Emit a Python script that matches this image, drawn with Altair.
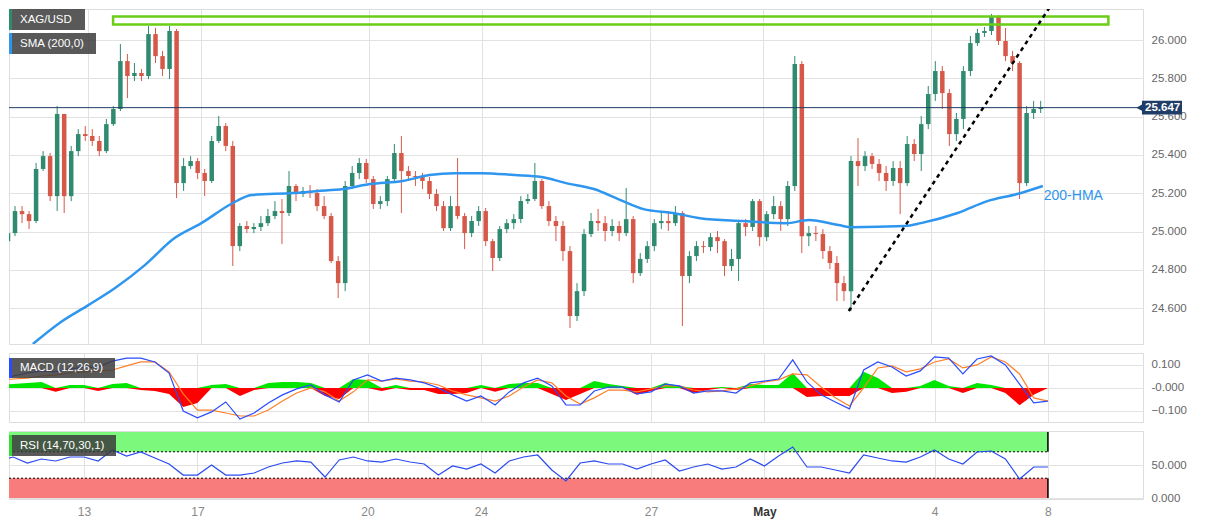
import altair as alt
import pandas as pd

# ---------------- data ----------------
candle_start_day = -1.43     # trading-day index of first 3-hour candle (0 = Apr 13)
candle_step = 0.125          # 3 hours
opens = [24.950, 24.992, 25.107, 25.091, 25.055, 25.327, 25.394, 25.185, 25.614, 25.185,
         25.420, 25.509, 25.499, 25.473, 25.420, 25.561, 25.640, 25.890, 25.812, 25.828,
         25.812, 26.031, 25.916, 25.849, 26.047, 25.253, 25.342, 25.368, 25.306, 25.264,
         25.473, 25.551, 25.447, 24.924, 25.029, 25.013, 25.024, 25.044, 25.081, 25.107,
         25.097, 25.238, 25.196, 25.212, 25.201, 25.133, 25.081, 24.846, 24.731, 25.238,
         25.306, 25.358, 25.274, 25.144, 25.159, 25.274, 25.410, 25.316, 25.290, 25.285,
         25.264, 25.196, 25.133, 25.018, 25.133, 25.081, 24.992, 25.055, 25.107, 24.950,
         24.862, 25.013, 25.044, 25.065, 25.159, 25.170, 25.264, 25.133, 25.055, 25.029,
         24.898, 24.559, 24.689, 24.987, 25.055, 25.044, 25.003, 25.029, 24.992, 25.065,
         24.783, 24.857, 24.924, 25.044, 25.055, 25.044, 25.097, 24.768, 24.872, 24.924,
         24.919, 24.971, 24.950, 24.820, 24.857, 25.044, 25.024, 25.159, 24.971, 25.091,
         25.133, 25.065, 25.238, 25.875, 24.976, 24.992, 24.987, 24.898, 24.836, 24.731,
         24.689, 25.368, 25.342, 25.394, 25.353, 25.306, 25.264, 25.332, 25.253, 25.457,
         25.405, 25.561, 25.718, 25.838, 25.723, 25.509, 25.588, 25.838, 25.984, 26.037,
         26.047, 26.120, 25.995, 25.916, 25.880, 25.253, 25.619, 25.640]
closes = [24.992, 25.107, 25.091, 25.055, 25.327, 25.394, 25.185, 25.614, 25.185, 25.420,
          25.509, 25.499, 25.473, 25.420, 25.561, 25.640, 25.890, 25.812, 25.828, 25.812,
          26.031, 25.916, 25.849, 26.047, 25.253, 25.342, 25.368, 25.306, 25.264, 25.473,
          25.551, 25.447, 24.924, 25.029, 25.013, 25.024, 25.044, 25.081, 25.107, 25.097,
          25.238, 25.196, 25.212, 25.201, 25.133, 25.081, 24.846, 24.731, 25.238, 25.306,
          25.358, 25.274, 25.144, 25.159, 25.274, 25.410, 25.316, 25.290, 25.285, 25.264,
          25.196, 25.133, 25.018, 25.133, 25.081, 24.992, 25.055, 25.107, 24.950, 24.862,
          25.013, 25.044, 25.065, 25.159, 25.170, 25.264, 25.133, 25.055, 25.029, 24.898,
          24.559, 24.689, 24.987, 25.055, 25.044, 25.003, 25.029, 24.992, 25.065, 24.783,
          24.857, 24.924, 25.044, 25.055, 25.044, 25.097, 24.768, 24.872, 24.924, 24.919,
          24.971, 24.950, 24.820, 24.857, 25.044, 25.024, 25.159, 24.971, 25.091, 25.133,
          25.065, 25.238, 25.875, 24.976, 24.992, 24.987, 24.898, 24.836, 24.731, 24.689,
          25.368, 25.342, 25.394, 25.353, 25.306, 25.264, 25.332, 25.253, 25.457, 25.405,
          25.561, 25.718, 25.838, 25.723, 25.509, 25.588, 25.838, 25.984, 26.037, 26.047,
          26.120, 25.995, 25.916, 25.880, 25.253, 25.619, 25.640, 25.647]
highs = [25.029, 25.133, 25.133, 25.107, 25.358, 25.420, 25.410, 25.655, 25.614, 25.447,
         25.535, 25.551, 25.535, 25.499, 25.588, 25.655, 25.979, 25.927, 25.880, 25.849,
         26.073, 26.063, 25.943, 26.073, 26.058, 25.384, 25.394, 25.384, 25.327, 25.499,
         25.603, 25.567, 25.473, 25.044, 25.055, 25.044, 25.081, 25.118, 25.159, 25.170,
         25.316, 25.248, 25.233, 25.243, 25.222, 25.185, 25.097, 24.872, 25.264, 25.342,
         25.384, 25.379, 25.290, 25.185, 25.290, 25.457, 25.499, 25.342, 25.316, 25.306,
         25.285, 25.222, 25.159, 25.185, 25.384, 25.097, 25.081, 25.133, 25.123, 24.961,
         25.029, 25.065, 25.091, 25.185, 25.196, 25.358, 25.274, 25.159, 25.081, 25.055,
         24.924, 24.731, 25.013, 25.097, 25.118, 25.081, 25.065, 25.055, 25.227, 25.081,
         24.888, 24.950, 25.065, 25.107, 25.107, 25.133, 25.107, 24.898, 24.950, 24.950,
         24.992, 25.003, 24.961, 24.909, 25.055, 25.065, 25.170, 25.170, 25.107, 25.185,
         25.159, 25.264, 25.916, 25.890, 25.029, 25.029, 25.013, 24.924, 24.872, 24.768,
         25.394, 25.488, 25.420, 25.410, 25.379, 25.342, 25.368, 25.368, 25.499, 25.483,
         25.603, 25.760, 25.890, 25.864, 25.744, 25.619, 25.864, 26.021, 26.058, 26.068,
         26.136, 26.131, 26.063, 25.943, 25.890, 25.655, 25.682, 25.682]
lows = [24.836, 24.976, 25.044, 25.013, 25.044, 25.316, 25.159, 25.107, 25.097, 25.159,
        25.394, 25.473, 25.447, 25.394, 25.410, 25.551, 25.629, 25.697, 25.786, 25.786,
        25.796, 25.880, 25.812, 25.796, 25.175, 25.212, 25.327, 25.274, 25.185, 25.253,
        25.462, 25.420, 24.820, 24.898, 24.992, 24.992, 25.003, 25.029, 25.065, 24.935,
        25.081, 25.159, 25.180, 25.175, 25.107, 25.065, 24.836, 24.653, 24.689, 25.222,
        25.274, 25.253, 25.118, 25.118, 25.133, 25.253, 25.097, 25.264, 25.238, 25.222,
        25.170, 25.107, 25.003, 25.003, 25.065, 24.909, 24.971, 25.029, 24.924, 24.794,
        24.846, 24.992, 25.013, 25.044, 25.144, 25.159, 25.118, 25.029, 24.950, 24.846,
        24.496, 24.533, 24.663, 24.971, 25.003, 24.950, 24.976, 24.950, 24.976, 24.731,
        24.768, 24.836, 24.898, 25.013, 25.003, 25.029, 24.507, 24.731, 24.846, 24.888,
        24.898, 24.888, 24.768, 24.794, 24.742, 24.976, 25.003, 24.924, 24.950, 25.065,
        25.003, 25.029, 25.212, 24.888, 24.924, 24.950, 24.857, 24.804, 24.637, 24.637,
        24.585, 25.238, 25.316, 25.327, 25.264, 25.212, 25.238, 25.091, 25.238, 25.368,
        25.316, 25.535, 25.682, 25.640, 25.447, 25.473, 25.535, 25.812, 25.969, 26.016,
        26.026, 25.974, 25.890, 25.838, 25.170, 25.238, 25.588, 25.619]

hma_days = [-0.988, -0.494, 0.0, 0.476, 1.005, 1.534, 2.011, 2.540, 2.910, 3.651,
            4.056, 4.533, 5.009, 5.591, 6.067, 6.526, 7.002, 7.584, 8.060, 8.501,
            8.995, 9.471, 9.877, 10.406, 10.882, 11.640, 12.416, 12.822, 13.351, 13.580,
            14.533, 14.815, 15.467, 15.997, 16.526, 16.984]
hma_vals = [24.413, 24.527, 24.616, 24.705, 24.825, 24.966, 25.044, 25.144, 25.191, 25.201,
            25.211, 25.222, 25.248, 25.264, 25.295, 25.305, 25.305, 25.295, 25.285, 25.253,
            25.222, 25.164, 25.117, 25.097, 25.070, 25.055, 25.044, 25.060, 25.034, 25.023,
            25.029, 25.044, 25.097, 25.159, 25.196, 25.238]

ind_start_day = -1.5
ind_step = 0.25
macd = [0.044, 0.052, 0.065, 0.074, 0.070, 0.083, 0.091, 0.091, 0.117, 0.130,
        0.130, 0.113, 0.065, -0.100, -0.130, -0.104, -0.061, -0.135, -0.109, -0.065,
        -0.030, -0.004, 0.013, -0.030, -0.061, 0.035, 0.057, 0.030, 0.043, 0.035,
        0.022, 0.000, -0.030, -0.057, -0.035, -0.074, -0.017, 0.022, 0.043, 0.009,
        -0.074, -0.074, -0.013, 0.004, 0.004, -0.026, -0.017, 0.017, 0.009, -0.022,
        -0.013, -0.013, -0.022, 0.022, 0.030, 0.039, 0.122, 0.026, -0.030, -0.061,
        -0.091, 0.078, 0.113, 0.091, 0.052, 0.074, 0.135, 0.130, 0.061, 0.126,
        0.139, 0.100, 0.017, -0.065, -0.057]
signal = [0.035, 0.039, 0.043, 0.052, 0.057, 0.065, 0.070, 0.074, 0.078, 0.096,
          0.113, 0.113, 0.070, -0.026, -0.096, -0.096, -0.109, -0.122, -0.122, -0.096,
          -0.057, -0.022, 0.000, -0.017, -0.057, -0.017, 0.035, 0.030, 0.039, 0.030,
          0.026, 0.013, -0.013, -0.030, -0.043, -0.057, -0.035, 0.004, 0.035, 0.022,
          -0.035, -0.070, -0.043, -0.009, -0.009, -0.017, -0.004, 0.009, 0.009, -0.009,
          -0.017, -0.013, -0.004, 0.009, 0.026, 0.035, 0.061, 0.057, 0.004, -0.043,
          -0.078, 0.000, 0.087, 0.096, 0.070, 0.083, 0.113, 0.126, 0.087, 0.100,
          0.135, 0.113, 0.061, -0.043, -0.057]
hist = [0.013, 0.017, 0.022, 0.026, -0.017, 0.013, 0.013, -0.013, 0.017, 0.022,
        -0.009, -0.013, -0.026, -0.083, -0.065, 0.013, 0.017, -0.035, -0.009, 0.022,
        0.026, 0.026, 0.022, -0.035, -0.048, 0.039, 0.035, -0.013, 0.013, -0.009,
        -0.009, -0.026, -0.026, -0.022, 0.013, -0.017, 0.017, 0.022, 0.022, -0.026,
        -0.052, -0.026, 0.030, 0.017, 0.009, -0.030, -0.013, 0.022, 0.009, -0.022,
        -0.009, 0.004, -0.009, 0.017, 0.013, 0.013, 0.065, -0.039, -0.035, -0.035,
        -0.035, 0.070, 0.043, -0.022, -0.017, 0.009, 0.035, 0.009, -0.022, 0.022,
        0.013, -0.022, -0.075, -0.030, 0.000]
rsi = [56.1, 62.1, 53.0, 59.1, 56.1, 62.1, 62.1, 56.1, 72.7, 63.6,
       69.7, 60.6, 51.5, 34.8, 34.8, 50.0, 34.8, 34.8, 37.9, 47.0,
       53.0, 56.1, 54.5, 31.8, 57.6, 62.1, 56.1, 54.5, 59.1, 54.5,
       51.5, 34.8, 48.5, 43.9, 51.5, 37.9, 56.1, 62.1, 65.2, 42.4,
       25.8, 53.0, 56.1, 51.5, 51.5, 43.9, 51.5, 57.6, 40.9, 47.0,
       51.5, 43.9, 47.0, 59.1, 48.5, 63.6, 77.3, 47.0, 47.0, 42.4,
       37.9, 65.2, 60.6, 56.1, 54.5, 62.1, 72.7, 59.1, 51.5, 69.7,
       71.2, 59.1, 28.8, 47.0, 47.0]

tick_days = [0, 2, 5, 7, 10, 12, 15, 17]
tick_labels = ["13", "17", "20", "24", "27", "May", "4", "8"]
price_ticks = [24.6, 24.8, 25.0, 25.2, 25.4, 25.6, 25.8, 26.0]
macd_ticks = [-0.1, 0.0, 0.1]
rsi_ticks = [0, 50]
last_price = 25.647
zone_low, zone_high = 26.081, 26.123
zone_start, zone_end = 0.44, 18.15
trend_days = [13.53, 17.18]
trend_prices = [24.585, 26.204]
data_end_day = 17.0
hma_label_day, hma_label_price = 17.0, 25.185
rsi_ob = (70, 100)
rsi_os = (0, 30)

# ---------------- styling ----------------
X_MIN, X_MAX = -1.323, 18.677
W = 1134
GREEN_C, RED_C = "#2f8a70", "#d65848"
HMA_C = "#2e96ee"
NAVY = "#1f3d66"
FONT = "Liberation Sans"

xscale = alt.Scale(domain=[X_MIN, X_MAX], nice=False, zero=False)
ymain = alt.Scale(domain=[24.413, 26.162], nice=False, zero=False)
ymacd = alt.Scale(domain=[-0.148, 0.152], nice=False, zero=False)
yrsi = alt.Scale(domain=[-1.5, 101.5], nice=False, zero=False)

x_axis_hidden = alt.Axis(values=tick_days, labels=False, ticks=False, domain=False,
                         grid=True, title=None)
label_expr = " : ".join(f"datum.value == {d} ? '{l}'" for d, l in zip(tick_days, tick_labels)) + " : ''"
x_axis_bottom = alt.Axis(values=tick_days, labelExpr=label_expr, ticks=False, domain=False,
                         grid=True, title=None, labelFontSize=12, labelPadding=7,
                         labelColor={"condition": {"test": "datum.value == 12", "value": "#333333"}, "value": "#888888"},
                         labelFontWeight={"condition": {"test": "datum.value == 12", "value": "bold"}, "value": "normal"})

def yaxis(values, fmt=".3f", expr=None):
    kw = dict(values=values, orient="right", format=fmt, ticks=False, domain=False,
              grid=True, title=None, labelFontSize=11.5, labelColor="#666666", labelPadding=8)
    if expr:
        kw["labelExpr"] = expr
    return alt.Axis(**kw)

ax_main = yaxis(price_ticks)
ax_macd = yaxis(macd_ticks, expr="datum.value == 0 ? '-0.000' : format(datum.value, '.3f')")
ax_rsi = yaxis(rsi_ticks)

one = pd.DataFrame({"k": [0]})

def badge(x0, x1, y0, y1, stripe, text):
    d = alt.Chart(one)
    box = d.mark_rect(color="#3c3c3c", opacity=0.85).encode(
        x=alt.value(x0), x2=alt.value(x1), y=alt.value(y0), y2=alt.value(y1))
    st = d.mark_rect(color=stripe).encode(
        x=alt.value(x0), x2=alt.value(x0 + 3), y=alt.value(y0), y2=alt.value(y1))
    tx = d.mark_text(text=text, color="white", fontSize=11.5, align="left",
                     baseline="middle", font=FONT).encode(
        x=alt.value(x0 + 11), y=alt.value((y0 + y1) / 2))
    return [box, st, tx]

# ---------------- main panel ----------------
n = len(closes)
cdf = pd.DataFrame({
    "day": [candle_start_day + candle_step * i for i in range(n)],
    "open": opens, "high": highs, "low": lows, "close": closes,
})
cdf["dir"] = ["up" if c >= o else "down" for o, c in zip(opens, closes)]
color_enc = alt.Color("dir:N", scale=alt.Scale(domain=["up", "down"], range=[GREEN_C, RED_C]), legend=None)

cbase = alt.Chart(cdf)
wicks = cbase.mark_rule(strokeWidth=1, clip=True).encode(
    x=alt.X("day:Q", scale=xscale, axis=x_axis_hidden),
    y=alt.Y("low:Q", scale=ymain, axis=ax_main),
    y2="high:Q", color=color_enc)
bodies = cbase.mark_bar(size=4.5, clip=True).encode(
    x=alt.X("day:Q", scale=xscale, axis=x_axis_hidden),
    y=alt.Y("open:Q", scale=ymain, axis=ax_main),
    y2="close:Q", color=color_enc)

hdf = pd.DataFrame({"day": hma_days, "v": hma_vals})
hma = alt.Chart(hdf).mark_line(color=HMA_C, strokeWidth=2.5, clip=True, interpolate="monotone").encode(
    x=alt.X("day:Q", scale=xscale, axis=x_axis_hidden),
    y=alt.Y("v:Q", scale=ymain, axis=ax_main))

pline = alt.Chart(one).mark_rule(color=NAVY, strokeWidth=1).encode(
    x=alt.value(0), x2=alt.value(W), y=alt.datum(last_price))

zdf = pd.DataFrame({"x0": [zone_start], "x1": [zone_end], "lo": [zone_low], "hi": [zone_high]})
zone = alt.Chart(zdf).mark_rect(fill=None, stroke="#6acd16", strokeWidth=2.5, clip=True).encode(
    x=alt.X("x0:Q", scale=xscale, axis=x_axis_hidden), x2="x1:Q",
    y=alt.Y("lo:Q", scale=ymain, axis=ax_main), y2="hi:Q")

tdf = pd.DataFrame({"day": trend_days, "p": trend_prices})
trend = alt.Chart(tdf).mark_line(color="black", strokeWidth=2.5, strokeDash=[4, 4], clip=True).encode(
    x=alt.X("day:Q", scale=xscale, axis=x_axis_hidden),
    y=alt.Y("p:Q", scale=ymain, axis=ax_main))

hlabel = alt.Chart(pd.DataFrame({"d": [hma_label_day], "p": [hma_label_price]})).mark_text(
    text="200-HMA", color=HMA_C, fontSize=14, align="left", baseline="middle", font=FONT).encode(
    x=alt.X("d:Q", scale=xscale, axis=x_axis_hidden),
    y=alt.Y("p:Q", scale=ymain, axis=ax_main))

tag_box = alt.Chart(one).mark_rect(color=NAVY).encode(
    x=alt.value(W - 1), x2=alt.value(W + 39),
    y=alt.datum(last_price + 0.036), y2=alt.datum(last_price - 0.036))
tag_tri = alt.Chart(one).mark_point(shape="triangle-left", filled=True, size=70, color=NAVY, opacity=1).encode(
    x=alt.value(W - 3), y=alt.datum(last_price))
tag_txt = alt.Chart(one).mark_text(text=f"{last_price:.3f}", color="white", fontSize=11.5,
                                   fontWeight="bold", align="left", baseline="middle", font=FONT).encode(
    x=alt.value(W + 2), y=alt.datum(last_price))

main = alt.layer(
    wicks, bodies, hma, pline, zone, trend, hlabel,
    *badge(0, 76, 0, 21, "#2f8a70", "XAG/USD"),
    *badge(0, 87, 24, 45, "#2e96ee", "SMA (200,0)"),
    tag_box, tag_tri, tag_txt,
).properties(width=W, height=335)

# ---------------- MACD panel ----------------
m = len(macd)
idf = pd.DataFrame({
    "day": [ind_start_day + ind_step * k for k in range(m)],
    "macd": macd, "signal": signal, "hist": hist, "rsi": rsi,
})
ibase = alt.Chart(idf)
hpos = ibase.transform_calculate(hp="max(datum.hist, 0)").mark_area(color="#00e600", clip=True).encode(
    x=alt.X("day:Q", scale=xscale, axis=x_axis_hidden),
    y=alt.Y("hp:Q", scale=ymacd, axis=ax_macd), y2=alt.datum(0))
hneg = ibase.transform_calculate(hn="min(datum.hist, 0)").mark_area(color="#ff0000", clip=True).encode(
    x=alt.X("day:Q", scale=xscale, axis=x_axis_hidden),
    y=alt.Y("hn:Q", scale=ymacd, axis=ax_macd), y2=alt.datum(0))
sig_line = ibase.mark_line(color="#ff7f27", strokeWidth=1.2, clip=True).encode(
    x=alt.X("day:Q", scale=xscale, axis=x_axis_hidden),
    y=alt.Y("signal:Q", scale=ymacd, axis=ax_macd))
macd_line = ibase.mark_line(color="#2a4bff", strokeWidth=1.2, clip=True).encode(
    x=alt.X("day:Q", scale=xscale, axis=x_axis_hidden),
    y=alt.Y("macd:Q", scale=ymacd, axis=ax_macd))

macd_chart = alt.layer(
    hpos, hneg, sig_line, macd_line,
    *badge(0, 106, 5, 25, "#2a4bff", "MACD (12,26,9)"),
).properties(width=W, height=69)

# ---------------- RSI panel ----------------
def band(lo, hi, color):
    d = pd.DataFrame({"x0": [X_MIN], "x1": [data_end_day], "lo": [lo], "hi": [hi]})
    c = alt.Chart(d)
    rect = c.mark_rect(color=color, clip=True).encode(
        x=alt.X("x0:Q", scale=xscale, axis=x_axis_bottom), x2="x1:Q",
        y=alt.Y("lo:Q", scale=yrsi, axis=ax_rsi), y2="hi:Q")
    edge = c.mark_rule(color="black", strokeWidth=1.5, clip=True).encode(
        x=alt.X("x1:Q", scale=xscale, axis=x_axis_bottom),
        y=alt.Y("lo:Q", scale=yrsi, axis=ax_rsi), y2="hi:Q")
    return rect, edge

ob_rect, ob_edge = band(rsi_ob[0], rsi_ob[1], "#7cf87c")
os_rect, os_edge = band(rsi_os[0], rsi_os[1], "#f87c7c")
ldf = pd.DataFrame({"x0": [X_MIN] * 2, "x1": [data_end_day] * 2, "lvl": [rsi_ob[0], rsi_os[1]]})
levels = alt.Chart(ldf).mark_rule(color="black", strokeWidth=1, strokeDash=[2, 2], clip=True).encode(
    x=alt.X("x0:Q", scale=xscale, axis=x_axis_bottom), x2="x1:Q",
    y=alt.Y("lvl:Q", scale=yrsi, axis=ax_rsi))
rsi_line = ibase.mark_line(color="#2a4bf0", strokeWidth=1.2, clip=True).encode(
    x=alt.X("day:Q", scale=xscale, axis=x_axis_bottom),
    y=alt.Y("rsi:Q", scale=yrsi, axis=ax_rsi))

rsi_chart = alt.layer(
    ob_rect, os_rect, levels, ob_edge, os_edge, rsi_line,
    *badge(0, 107, 4, 25, "#33dd33", "RSI (14,70,30,1)"),
).properties(width=W, height=68)

chart = alt.vconcat(main, macd_chart, rsi_chart, spacing=7).properties(
    padding={"left": 0, "top": 0, "right": 2, "bottom": 2}
).configure_view(
    fill="#f7f7f7", stroke="#d3dae4", strokeWidth=1
).configure(
    font=FONT, background="white"
).configure_axis(
    gridColor="#e2e2e2", gridWidth=1, labelFont=FONT
)

chart.save("out.html", embed_options={"renderer": "svg", "actions": False})
